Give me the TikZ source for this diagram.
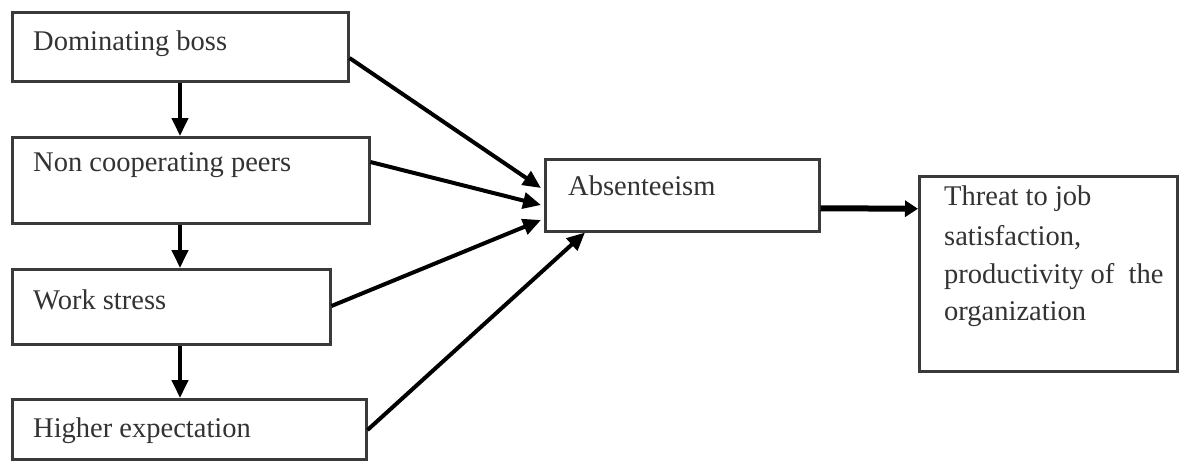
\documentclass[tikz,border=0pt]{standalone}
\usepackage{fontspec}
\setmainfont{Liberation Serif}
\usetikzlibrary{arrows.meta,calc}
\definecolor{boxline}{HTML}{3A3A3A}
\definecolor{txt}{HTML}{333333}
\tikzset{
  box/.style={draw=boxline, line width=2.5pt, fill=white, anchor=north west, inner sep=0pt, rectangle},
  lab/.style={anchor=base west, inner sep=0pt, text=txt, font=\fontsize{28.5}{38}\selectfont},
  arr/.style={line width=4pt, draw=black, -{Triangle[length=18pt,width=16pt]}},
  bigarr/.style={line width=6pt, draw=black, -{Triangle[length=13pt,width=16pt]}}
}
\begin{document}
\begin{tikzpicture}[x=1pt,y=-1pt]
\useasboundingbox (0,0) rectangle (1186,461);
% boxes
\node[box, minimum width=336pt, minimum height=69pt] (b1) at (11,11) {};
\node[box, minimum width=357pt, minimum height=86pt] (b2) at (11,136) {};
\node[box, minimum width=318pt, minimum height=75pt] (b3) at (11,268) {};
\node[box, minimum width=354pt, minimum height=60pt] (b4) at (11,398) {};
\node[box, minimum width=274pt, minimum height=72pt] (ab) at (544,158) {};
\node[box, minimum width=258pt, minimum height=195pt] (th) at (918,175) {};
% texts
\node[lab] (t1) at (33,50) {Dominating boss};
\node[lab] (t2) at (33,171) {Non cooperating peers};
\node[lab] (t3) at (33,309) {Work stress};
\node[lab] (t4) at (33,437) {Higher expectation};
\node[lab] (t5) at (568,195) {Absenteeism};
\node[lab] (t6) at (944,205) {Threat to job};
\node[lab] (t7) at (944,245) {satisfaction,};
\node[lab] (t8) at (944,283) {productivity of\ \ the};
\node[lab] (t9) at (944,320) {organization};
% vertical arrows
\draw[arr] ($(b1.south west)+(169,0)$) coordinate (v1s) -- (v1s |- b2.north);
\draw[arr] ($(b2.south west)+(169,0)$) coordinate (v2s) -- (v2s |- b3.north);
\draw[arr] ($(b3.south west)+(169,0)$) coordinate (v3s) -- (v3s |- b4.north);
% to absenteeism
\draw[arr] ($(b1.north east)+(0,47)$) -- ($(ab.north west)+(-3,30)$);
\draw[arr] ($(b2.north east)+(0,26)$) -- ($(ab.north west)+(-3,47)$);
\draw[arr] ($(b3.north east)+(0,38)$) -- ($(ab.north west)+(-3,62)$);
\draw[arr] ($(b4.north east)+(0,32)$) -- ($(ab.south west)+(41,0)$);
% to threat
\draw[bigarr] ($(ab.east)+(0,13)$) -- ($(th.west)+(0,-65)$);
\end{tikzpicture}
\end{document}
